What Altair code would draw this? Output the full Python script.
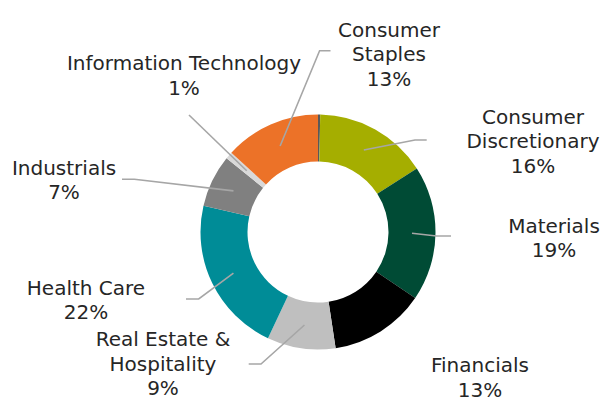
import math
import altair as alt
import pandas as pd

# ---- data ----
sectors = ["Other", "Consumer Discretionary", "Materials", "Financials",
           "Real Estate & Hospitality", "Health Care", "Industrials",
           "Information Technology", "Consumer Staples"]
values = [0.3, 15.6, 18.6, 13.1, 9.4, 21.6, 7.2, 1.0, 13.2]
label_names = ["", "Consumer\nDiscretionary", "Materials", "Financials",
               "Real Estate &\nHospitality", "Health Care", "Industrials",
               "Information Technology", "Consumer\nStaples"]
colors = ["#595959", "#A5AE00", "#004B35", "#000000", "#BFBFBF",
          "#008C97", "#808080", "#D9D9D9", "#EC7228"]

# ---- layout (pixels in the view) ----
CX, CY = 310, 224
R_IN, R_OUT = 70.5, 117.5
R_LEAD = 94
label_x = [None, 525, 546, 472, 155, 78, 56, 176, 381]
label_y = [None, 99.5, 208.5, 348, 322, 270.5, 150.5, 46, 12.5]
elbow = [None, (407, 132), (428.5, 228), None, (253, 356), (190.7, 291),
         (126.4, 171.3), (181, 107), (311.6, 42.7)]
tail = [None, (418.7, 132), (443, 228), None, (240.7, 356), (178, 291),
        (114, 171.3), (181, 107), (322.5, 42.7)]

W, H = 592, 394

arc_df = pd.DataFrame({"sector": sectors, "value": values,
                       "idx": list(range(len(sectors)))})

# leader lines: start at the slice mid-angle inside the ring
total = sum(values)
rows = []
cum = 0.0
for i, v in enumerate(values):
    mid = (cum + v / 2) / total * 2 * math.pi
    cum += v
    if elbow[i] is None:
        continue
    sx = CX + R_LEAD * math.sin(mid)
    sy = CY - R_LEAD * math.cos(mid)
    pts = [(sx, sy), elbow[i], tail[i]]
    for k, (px, py) in enumerate(pts):
        rows.append({"sector": sectors[i], "pt": k, "lx": px, "ly": py})
line_df = pd.DataFrame(rows)

lab_rows = []
for i in range(len(sectors)):
    if label_x[i] is None:
        continue
    lab_rows.append({"sector": sectors[i],
                     "txt": f"{label_names[i]}\n{round(values[i])}%",
                     "tx": label_x[i], "ty": label_y[i]})
lab_df = pd.DataFrame(lab_rows)

arcs = alt.Chart(arc_df).mark_arc(innerRadius=R_IN, outerRadius=R_OUT).encode(
    theta=alt.Theta("value:Q", stack=True),
    order=alt.Order("idx:Q"),
    color=alt.Color("sector:N", scale=alt.Scale(domain=sectors, range=colors),
                    legend=None),
    x=alt.value(CX),
    y=alt.value(CY),
)

leads = alt.Chart(line_df).mark_line(color="#A6A6A6", strokeWidth=1.6).encode(
    x=alt.X("lx:Q", scale=None, axis=None),
    y=alt.Y("ly:Q", scale=None, axis=None),
    detail="sector:N",
    order="pt:Q",
)

texts = alt.Chart(lab_df).mark_text(
    font="DejaVu Sans", fontSize=20, color="#262626", align="center",
    baseline="top", lineBreak="\n", lineHeight=24.5,
).encode(
    x=alt.X("tx:Q", scale=None, axis=None),
    y=alt.Y("ty:Q", scale=None, axis=None),
    text="txt:N",
)

chart = alt.layer(arcs, leads, texts).properties(
    width=W, height=H, autosize=alt.AutoSizeParams(type="none"), padding=0
).configure_view(stroke=None)

chart.save("out.html", embed_options={"renderer": "svg", "actions": False})
